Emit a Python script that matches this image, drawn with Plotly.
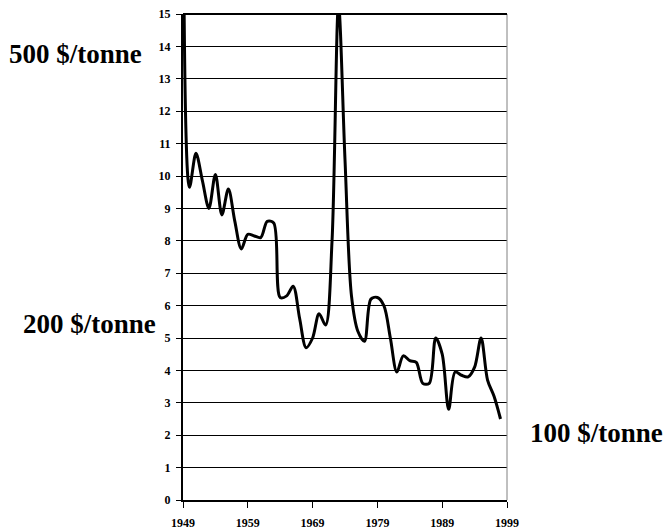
import plotly.graph_objects as go

years = list(range(1949, 1999))
price = [30.0, 9.65, 10.7, 9.85, 9.0, 10.05, 8.8, 9.6, 8.6, 7.75,
         8.2, 8.15, 8.1, 8.6, 8.55, 6.25, 6.3, 6.6, 5.6, 4.7,
         5.0, 5.75, 5.4, 8.0, 15.3, 10.5, 6.3, 5.2, 4.9, 6.2,
         6.25, 6.0, 5.0, 3.95, 4.45, 4.3, 4.25, 3.6, 3.6, 5.0,
         4.5, 2.8, 3.95, 3.85, 3.8, 4.1, 5.0, 3.7, 3.2, 2.5]

x_ticks = [1949, 1959, 1969, 1979, 1989, 1999]
y_ticks = list(range(0, 16))

labels = ["500 $/tonne", "200 $/tonne", "100 $/tonne"]

serif = "Liberation Serif, Times New Roman, serif"

fig = go.Figure()
fig.add_trace(go.Scatter(
    x=years, y=price, mode="lines",
    line=dict(color="black", width=3, shape="spline", smoothing=0.9),
    hoverinfo="skip", showlegend=False,
))

fig.update_layout(
    width=664, height=530,
    margin=dict(l=183, r=157, t=14, b=30),
    paper_bgcolor="white", plot_bgcolor="white",
    font=dict(family=serif, size=12, color="black", weight="bold"),
    xaxis=dict(
        range=[1949, 1999], tickvals=x_ticks, ticktext=[str(v) for v in x_ticks],
        showgrid=False, zeroline=False, automargin=False,
        showline=True, linecolor="black", linewidth=2,
        ticks="outside", ticklen=6, tickwidth=1, tickcolor="black",
        ticklabelstandoff=5,
        tickfont=dict(family=serif, size=12, color="black", weight="bold"),
    ),
    yaxis=dict(
        range=[0, 15], tickvals=y_ticks, automargin=False,
        showgrid=True, gridcolor="black", gridwidth=1,
        zeroline=False,
        showline=True, linecolor="black", linewidth=2,
        ticks="outside", ticklen=5, tickwidth=1, tickcolor="black",
        ticklabelstandoff=3,
        tickfont=dict(family=serif, size=12, color="black", weight="bold"),
    ),
    shapes=[
        dict(type="line", xref="paper", yref="paper", x0=1, x1=1, y0=0, y1=1,
             line=dict(color="#808080", width=1)),
        dict(type="line", xref="paper", yref="paper", x0=0, x1=1, y0=1, y1=1,
             line=dict(color="black", width=2)),
    ],
)

ann_font = dict(family=serif, size=27, color="black", weight="bold")
fig.add_annotation(text=labels[0], xref="paper", yref="paper",
                   x=(7 - 183) / 324, y=(500 - 54) / 486, xanchor="left", yanchor="middle",
                   showarrow=False, font=ann_font)
fig.add_annotation(text=labels[1], xref="paper", yref="paper",
                   x=(21 - 183) / 324, y=(500 - 324) / 486, xanchor="left", yanchor="middle",
                   showarrow=False, font=ann_font)
fig.add_annotation(text=labels[2], xref="paper", yref="paper",
                   x=(528 - 183) / 324, y=(500 - 433) / 486, xanchor="left", yanchor="middle",
                   showarrow=False, font=ann_font)

fig.write_html("out.html", config={"displayModeBar": False})

with open("out.html", "r", encoding="utf-8") as f:
    html = f.read()
html = html.replace("<head>", "<head><style>html,body{margin:0;padding:0;overflow:hidden;}</style>", 1)
with open("out.html", "w", encoding="utf-8") as f:
    f.write(html)
